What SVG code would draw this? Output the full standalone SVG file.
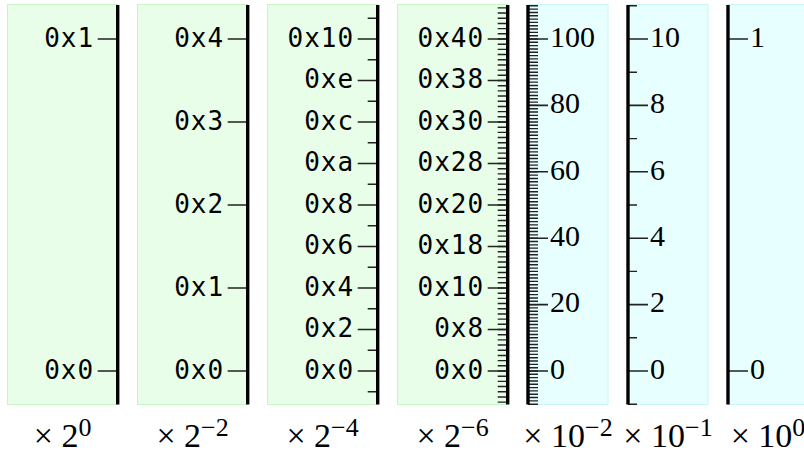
<svg xmlns="http://www.w3.org/2000/svg" width="804" height="453" viewBox="0 0 804 453">
<style>
.pg{fill:#e8fee8;stroke:#c8f4c8;stroke-width:1}
.pc{fill:#e8ffff;stroke:#c8f6f6;stroke-width:1}
.ax{stroke:#000;stroke-width:3.4;fill:none}
.mj{stroke:#222;stroke-width:1.6;fill:none}
.mn{stroke:#222;fill:none}
.hx{font-family:"DejaVu Sans Mono",monospace;font-size:26px;letter-spacing:1px;text-anchor:end;fill:#000}
.dc{font-family:"Liberation Serif",serif;font-size:30px;fill:#000}
.sc{font-family:"Liberation Serif",serif;font-size:34px;text-anchor:middle;fill:#000}
.sp{font-size:26px}
</style>
<g id="panel-1">
<rect class="pg" x="7.5" y="4.5" width="110" height="400"/>
<path class="mj" d="M97.7 39h20M97.7 371h20"/>
<line class="ax" x1="117.7" y1="5" x2="117.7" y2="404.5"/>
<text class="hx" x="94.2" y="46.7">0x1</text>
<text class="hx" x="94.2" y="378.7">0x0</text>
<text class="sc" x="62.6" y="447">× 2<tspan class="sp" dy="-11">0</tspan></text>
</g>
<g id="panel-2">
<rect class="pg" x="137.5" y="4.5" width="110" height="400"/>
<path class="mj" d="M227.7 39h20M227.7 122h20M227.7 205h20M227.7 288h20M227.7 371h20"/>
<line class="ax" x1="247.7" y1="5" x2="247.7" y2="404.5"/>
<text class="hx" x="224.2" y="46.7">0x4</text>
<text class="hx" x="224.2" y="129.7">0x3</text>
<text class="hx" x="224.2" y="212.7">0x2</text>
<text class="hx" x="224.2" y="295.7">0x1</text>
<text class="hx" x="224.2" y="378.7">0x0</text>
<text class="sc" x="192.6" y="447">× 2<tspan class="sp" dy="-11">−2</tspan></text>
</g>
<g id="panel-3">
<rect class="pg" x="267.5" y="4.5" width="110" height="400"/>
<line class="mn" x1="372.7" y1="392.45" x2="372.7" y2="10" stroke-width="10" stroke-dasharray="1.4 40.1"/>
<path class="mj" d="M357.7 39h20M357.7 80.5h20M357.7 122h20M357.7 163.5h20M357.7 205h20M357.7 246.5h20M357.7 288h20M357.7 329.5h20M357.7 371h20"/>
<line class="ax" x1="377.7" y1="5" x2="377.7" y2="404.5"/>
<text class="hx" x="354.2" y="46.7">0x10</text>
<text class="hx" x="354.2" y="88.2">0xe</text>
<text class="hx" x="354.2" y="129.7">0xc</text>
<text class="hx" x="354.2" y="171.2">0xa</text>
<text class="hx" x="354.2" y="212.7">0x8</text>
<text class="hx" x="354.2" y="254.2">0x6</text>
<text class="hx" x="354.2" y="295.7">0x4</text>
<text class="hx" x="354.2" y="337.2">0x2</text>
<text class="hx" x="354.2" y="378.7">0x0</text>
<text class="sc" x="322.6" y="447">× 2<tspan class="sp" dy="-11">−4</tspan></text>
</g>
<g id="panel-4">
<rect class="pg" x="397.5" y="4.5" width="110" height="400"/>
<line class="mn" x1="502.7" y1="402.825" x2="502.7" y2="6" stroke-width="10" stroke-dasharray="1.4 3.7875"/>
<path class="mj" d="M487.7 39h20M487.7 80.5h20M487.7 122h20M487.7 163.5h20M487.7 205h20M487.7 246.5h20M487.7 288h20M487.7 329.5h20M487.7 371h20"/>
<line class="ax" x1="507.7" y1="5" x2="507.7" y2="404.5"/>
<text class="hx" x="484.2" y="46.7">0x40</text>
<text class="hx" x="484.2" y="88.2">0x38</text>
<text class="hx" x="484.2" y="129.7">0x30</text>
<text class="hx" x="484.2" y="171.2">0x28</text>
<text class="hx" x="484.2" y="212.7">0x20</text>
<text class="hx" x="484.2" y="254.2">0x18</text>
<text class="hx" x="484.2" y="295.7">0x10</text>
<text class="hx" x="484.2" y="337.2">0x8</text>
<text class="hx" x="484.2" y="378.7">0x0</text>
<text class="sc" x="452.6" y="447">× 2<tspan class="sp" dy="-11">−6</tspan></text>
</g>
<g id="panel-5">
<rect class="pc" x="528" y="4.5" width="80" height="400"/>
<line class="mn" x1="533" y1="404.9" x2="533" y2="5" stroke-width="10" stroke-dasharray="1.4 1.92"/>
<path class="mj" d="M528 39h20M528 105.4h20M528 171.8h20M528 238.2h20M528 304.6h20M528 371h20"/>
<line class="ax" x1="528" y1="5" x2="528" y2="404.5"/>
<text class="dc" x="550" y="46.7">100</text>
<text class="dc" x="550" y="113.1">80</text>
<text class="dc" x="550" y="179.5">60</text>
<text class="dc" x="550" y="245.9">40</text>
<text class="dc" x="550" y="312.3">20</text>
<text class="dc" x="550" y="378.7">0</text>
<text class="sc" x="568" y="447">× 10<tspan class="sp" dy="-11">−2</tspan></text>
</g>
<g id="panel-6">
<rect class="pc" x="628" y="4.5" width="80" height="400"/>
<line class="mn" x1="632.5" y1="404.9" x2="632.5" y2="5" stroke-width="9" stroke-dasharray="1.4 65"/>
<path class="mj" d="M628 39h20M628 105.4h20M628 171.8h20M628 238.2h20M628 304.6h20M628 371h20"/>
<line class="ax" x1="628" y1="5" x2="628" y2="404.5"/>
<text class="dc" x="650" y="46.7">10</text>
<text class="dc" x="650" y="113.1">8</text>
<text class="dc" x="650" y="179.5">6</text>
<text class="dc" x="650" y="245.9">4</text>
<text class="dc" x="650" y="312.3">2</text>
<text class="dc" x="650" y="378.7">0</text>
<text class="sc" x="668" y="447">× 10<tspan class="sp" dy="-11">−1</tspan></text>
</g>
<g id="panel-7">
<rect class="pc" x="728" y="4.5" width="80" height="400"/>
<path class="mj" d="M728 39h20M728 371h20"/>
<line class="ax" x1="728" y1="5" x2="728" y2="404.5"/>
<text class="dc" x="750" y="46.7">1</text>
<text class="dc" x="750" y="378.7">0</text>
<text class="sc" x="768" y="447">× 10<tspan class="sp" dy="-11">0</tspan></text>
</g>
</svg>
